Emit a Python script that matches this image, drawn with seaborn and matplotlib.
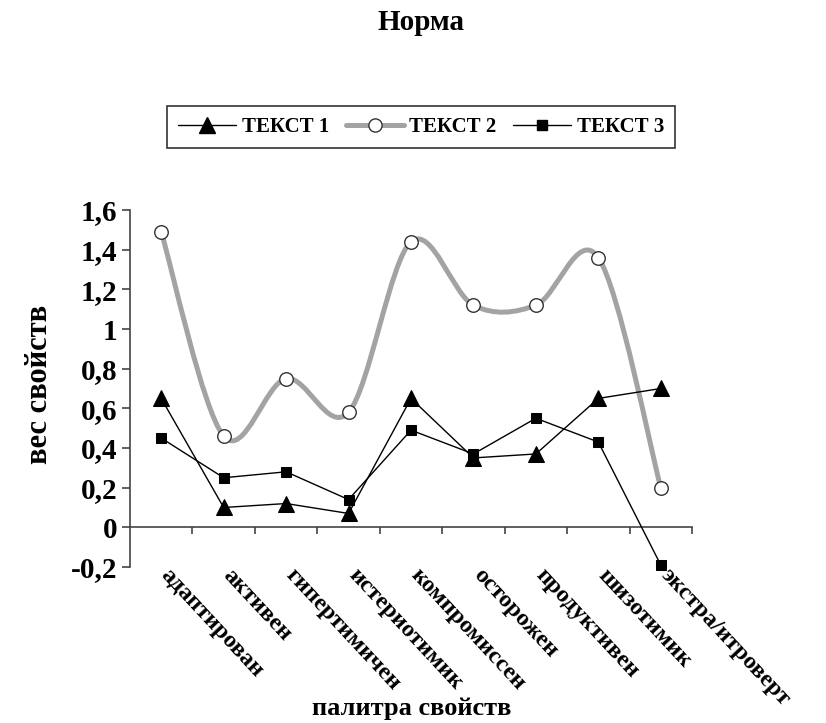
import numpy as np
import pandas as pd
import seaborn as sns
import matplotlib
matplotlib.use("Agg")
import matplotlib.pyplot as plt
from matplotlib.path import Path
from matplotlib.patches import PathPatch
from matplotlib.lines import Line2D
from matplotlib.transforms import ScaledTranslation

categories = ["адаптирован", "активен", "гипертимичен", "истериотимик",
              "компромиссен", "осторожен", "продуктивен", "шизотимик",
              "экстра/итроверт"]
text1 = [0.65, 0.10, 0.12, 0.07, 0.65, 0.35, 0.37, 0.65, 0.70]
text2 = [1.49, 0.46, 0.75, 0.58, 1.44, 1.12, 1.12, 1.36, 0.20]
text3 = [0.45, 0.25, 0.28, 0.14, 0.49, 0.37, 0.55, 0.43, -0.19]
series_names = ["ТЕКСТ 1", "ТЕКСТ 2", "ТЕКСТ 3"]
yticks = [-0.2, 0, 0.2, 0.4, 0.6, 0.8, 1.0, 1.2, 1.4, 1.6]
ytick_labels = ["-0,2", "0", "0,2", "0,4", "0,6", "0,8", "1", "1,2", "1,4", "1,6"]
title = "Норма"
xlabel = "палитра свойств"
ylabel = "вес свойств"

sns.set_theme(style="white")
plt.rcParams["font.family"] = ["Liberation Serif", "DejaVu Serif"]
plt.rcParams["font.weight"] = "bold"
plt.rcParams["text.color"] = "black"
plt.rcParams["axes.labelcolor"] = "black"
plt.rcParams["xtick.color"] = "black"
plt.rcParams["ytick.color"] = "black"

fig = plt.figure(figsize=(8.26, 7.23), dpi=100)
ax = fig.add_axes([130 / 826, 1 - 567 / 723, 562 / 826, (567 - 210) / 723])

x = np.arange(len(categories))
df = pd.DataFrame({"x": x, "t1": text1, "t2": text2, "t3": text3})

GRAY = "#a3a3a3"

# smoothed line (Excel-style Bezier) for ТЕКСТ 2
pts = np.column_stack([x, text2]).astype(float)
verts = [tuple(pts[0])]
codes = [Path.MOVETO]
n = len(pts)
for i in range(n - 1):
    p0 = pts[max(i - 1, 0)]
    p1 = pts[i]
    p2 = pts[i + 1]
    p3 = pts[min(i + 2, n - 1)]
    c1 = p1 + (p2 - p0) / 6.0
    c2 = p2 - (p3 - p1) / 6.0
    verts += [tuple(c1), tuple(c2), tuple(p2)]
    codes += [Path.CURVE4] * 3
ax.add_patch(PathPatch(Path(verts, codes), facecolor="none", edgecolor=GRAY,
                       lw=3.6, zorder=2, capstyle="round", joinstyle="round"))

sns.lineplot(data=df, x="x", y="t1", ax=ax, color="black", lw=1.0,
             marker="^", markersize=11, markeredgecolor="black",
             markerfacecolor="black", zorder=3, clip_on=False)
sns.lineplot(data=df, x="x", y="t3", ax=ax, color="black", lw=1.0,
             marker="s", markersize=7.5, markeredgecolor="black",
             markerfacecolor="black", zorder=3, clip_on=False)
sns.scatterplot(data=df, x="x", y="t2", ax=ax, marker="o", s=95,
                facecolor="white", edgecolor="#333333", linewidth=1.0,
                zorder=4, clip_on=False)

ax.set_xlim(-0.5, len(categories) - 0.5)
ax.set_ylim(-0.2, 1.6)

# spines
for s in ["top", "right"]:
    ax.spines[s].set_visible(False)
ax.spines["bottom"].set_position(("data", 0))
for s in ["left", "bottom"]:
    ax.spines[s].set_color("#444444")
    ax.spines[s].set_linewidth(1.2)

ax.set_yticks(yticks)
ax.set_yticklabels(ytick_labels, fontsize=21, fontweight="bold")
ax.tick_params(axis="y", direction="out", length=6, width=1.2, color="#444444",
               pad=3, left=True)

ax.set_xticks(x)
ax.set_xticks(np.arange(len(categories)) + 0.5, minor=True)
ax.set_xticklabels(categories, fontsize=17.5, fontweight="bold", rotation=-47,
                   ha="left", va="center", rotation_mode="anchor")
ax.tick_params(axis="x", which="major", length=0, pad=32, bottom=True)
ax.tick_params(axis="x", which="minor", direction="out", length=5, width=1.2,
               color="#444444", bottom=True)
for lab in ax.get_xticklabels():
    lab.set_transform(lab.get_transform() + ScaledTranslation(3 / 100, 0, fig.dpi_scale_trans))

ax.set_xlabel("")
ax.set_ylabel("")
fig.text(412 / 826, 1 - 708 / 723, xlabel, ha="center", va="center",
         fontsize=19, fontweight="bold")
fig.text(40 / 826, 1 - 384 / 723, ylabel, ha="center", va="center",
         rotation=90, fontsize=22, fontweight="bold")
fig.text(421 / 826, 1 - 22 / 723, title, ha="center", va="center",
         fontsize=21, fontweight="bold")

handles = [
    Line2D([], [], color="black", lw=1.0, marker="^", markersize=11,
           markerfacecolor="black", markeredgecolor="black"),
    Line2D([], [], color=GRAY, lw=3.6, marker="o", markersize=9.5,
           markerfacecolor="white", markeredgecolor="#333333"),
    Line2D([], [], color="black", lw=1.0, marker="s", markersize=7.5,
           markerfacecolor="black", markeredgecolor="black"),
]
leg = fig.legend(handles, series_names, loc="center", ncol=3,
                 bbox_to_anchor=(421 / 826, 1 - 127 / 723), frameon=True,
                 fancybox=False, edgecolor="black",
                 handlelength=2.8, columnspacing=0.8, handletextpad=0.25,
                 borderpad=0.55, prop={"weight": "bold", "size": 15})
leg.get_frame().set_linewidth(1.2)

fig.savefig("out.png", dpi=100)
